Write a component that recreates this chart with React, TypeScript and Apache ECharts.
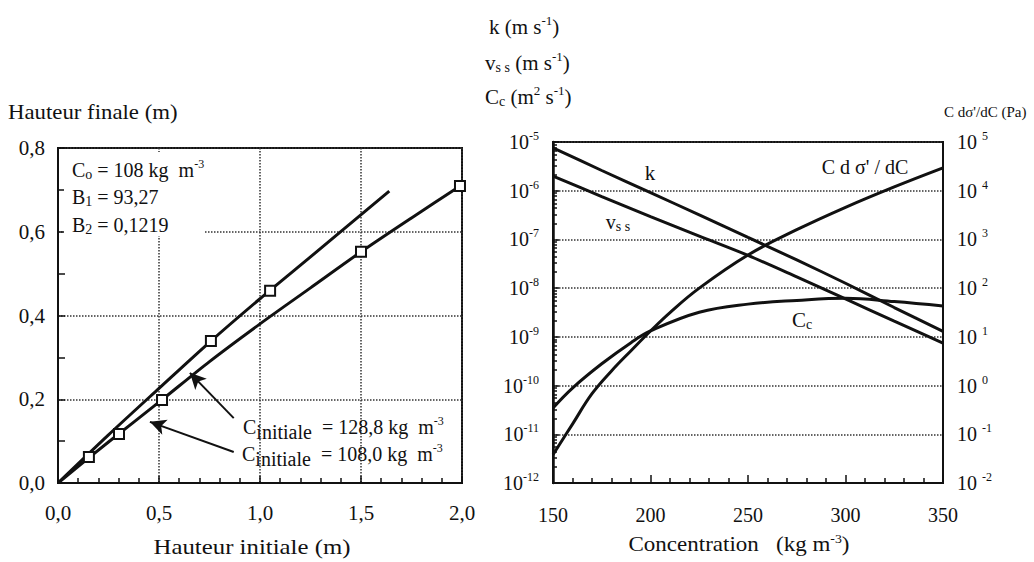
import React, { useEffect, useRef } from "react";
import * as echarts from "echarts";

// ---------- Left chart data (Hauteur initiale vs Hauteur finale) ----------
const lineA_x = [0, 0.25, 0.5, 0.75, 1.0, 1.25, 1.64];
const lineA_y = [0, 0.115, 0.226, 0.336, 0.44, 0.54, 0.697];
const lineB_x = [0, 0.25, 0.5, 0.75, 1.0, 1.25, 1.5, 1.75, 2.0];
const lineB_y = [0, 0.098, 0.193, 0.29, 0.38, 0.466, 0.552, 0.633, 0.712];
const pointsA_x = [0.153, 0.757, 1.05];
const pointsA_y = [0.062, 0.339, 0.459];
const pointsB_x = [0.302, 0.515, 1.5, 1.99];
const pointsB_y = [0.117, 0.198, 0.552, 0.709];
// annotation arrows: [tail x, tail y, head x, head y]
const arrow128 = [0.87, 0.155, 0.653, 0.263];
const arrow108 = [0.87, 0.074, 0.455, 0.146];

// ---------- Right chart data (Concentration) ----------
const concKV = [150, 175, 200, 225, 250, 275, 300, 325, 350];
const kValues = [7.6e-6, 2.6e-6, 9.1e-7, 3.2e-7, 1.1e-7, 3.8e-8, 1.26e-8, 4.0e-9, 1.3e-9];
const vssValues = [2.0e-6, 7.6e-7, 2.95e-7, 1.17e-7, 4.7e-8, 1.7e-8, 6.0e-9, 2.1e-9, 7.4e-10];
const concCc = [150, 160, 175, 190, 200, 225, 250, 275, 300, 325, 350];
const ccValues = [3.47e-11, 8.9e-11, 2.8e-10, 7.6e-10, 1.32e-9, 3.2e-9, 4.7e-9, 5.6e-9, 6.2e-9, 5.3e-9, 4.3e-9];
const concCd = [150, 160, 170, 180, 190, 200, 210, 225, 250, 275, 300, 325, 350];
const cdValues = [0.038, 0.162, 0.68, 2.0, 5.2, 13.2, 31.6, 100, 479, 1585, 4570, 12000, 29500];

const SERIF = "Liberation Serif";
const INK = "#111";

const zip = (xs: number[], ys: number[]) => xs.map((x, i) => [x, ys[i]]);

function rich(size: number) {
  return {
    b: { fontSize: size, fontFamily: SERIF, color: INK },
    sup: { fontSize: Math.round(size * 0.62), fontFamily: SERIF, color: INK, padding: [0, 0, Math.round(size * 0.6), 0] },
    sub: { fontSize: Math.round(size * 0.68), fontFamily: SERIF, color: INK, padding: [Math.round(size * 0.45), 0, 0, 0] },
    subl: { fontSize: size, fontFamily: SERIF, color: INK, padding: [Math.round(size * 0.45), 0, 0, 0] },
  };
}

function txt(x: number, y: number, text: string, size: number, align: string = "left", scaleX: number = 1) {
  return {
    type: "text",
    x,
    y,
    z: 10,
    scaleX,
    style: {
      text,
      rich: rich(size),
      fontSize: size,
      fontFamily: SERIF,
      fill: INK,
      align,
      verticalAlign: "middle",
    },
  };
}

const commaFmt = (v: number) => v.toFixed(1).replace(".", ",");
const expFmt = (sep: string) => (v: number) => {
  const e = Math.round(Math.log10(v));
  return `{b|10${sep}}{sup|${e}}`;
};

export default function App() {
  const ref = useRef<HTMLDivElement>(null);
  useEffect(() => {
    if (!ref.current) return;
    const chart = echarts.init(ref.current, undefined, { renderer: "svg" });
    const splitStyle = { show: true, lineStyle: { type: "dotted", color: "#333", width: 1.5 } };
    const tickStyle = { color: INK, width: 1.5 };
    const lineStyle = { color: INK, width: 3 };
    const labelFont = { fontSize: 21, fontFamily: SERIF, color: INK };
    const option: any = {
      animation: false,
      backgroundColor: "#fff",
      textStyle: { fontFamily: SERIF },
      grid: [
        { left: 58, top: 148, width: 404, height: 335, show: true, borderColor: INK, borderWidth: 2 },
        { left: 553, top: 142, width: 390, height: 341, show: true, borderColor: INK, borderWidth: 2 },
      ],
      xAxis: [
        {
          gridIndex: 0,
          type: "value",
          min: 0,
          max: 2,
          interval: 0.5,
          axisLine: { lineStyle: { color: INK, width: 2 } },
          axisTick: { inside: true, length: 7, lineStyle: tickStyle },
          minorTick: { show: true, splitNumber: 5, length: 5, lineStyle: tickStyle },
          axisLabel: { formatter: commaFmt, ...labelFont, margin: 19 },
          splitLine: splitStyle,
        },
        {
          gridIndex: 1,
          type: "value",
          min: 150,
          max: 350,
          interval: 50,
          axisLine: { lineStyle: { color: INK, width: 2 } },
          axisTick: { inside: true, length: 8, lineStyle: tickStyle },
          minorTick: { show: true, splitNumber: 5, length: 5, lineStyle: tickStyle },
          axisLabel: { ...labelFont, fontSize: 20, margin: 22 },
          splitLine: { show: false },
        },
      ],
      yAxis: [
        {
          gridIndex: 0,
          type: "value",
          min: 0,
          max: 0.8,
          interval: 0.2,
          axisLine: { lineStyle: { color: INK, width: 2 } },
          axisTick: { inside: true, length: 7, lineStyle: tickStyle },
          minorTick: { show: true, splitNumber: 2, length: 7, lineStyle: tickStyle },
          axisLabel: { formatter: commaFmt, ...labelFont, margin: 13 },
          splitLine: splitStyle,
        },
        {
          gridIndex: 1,
          type: "log",
          logBase: 10,
          min: 1e-12,
          max: 1e-5,
          interval: 1,
          axisLine: { lineStyle: { color: INK, width: 2.5 } },
          axisTick: { inside: true, length: 6, lineStyle: tickStyle },
          minorTick: { show: true, splitNumber: 8, length: 4, lineStyle: tickStyle },
          axisLabel: { formatter: expFmt(""), rich: rich(20), margin: 14 },
          splitLine: splitStyle,
        },
        {
          gridIndex: 1,
          type: "log",
          logBase: 10,
          min: 1e-2,
          max: 1e5,
          interval: 1,
          position: "right",
          axisLine: { show: true, lineStyle: { color: INK, width: 2 } },
          axisTick: { show: false },
          axisLabel: { formatter: expFmt(" "), rich: rich(20), margin: 14 },
          splitLine: { show: false },
        },
      ],
      series: [
        {
          name: "Cinitiale = 128,8 kg m-3",
          type: "line",
          xAxisIndex: 0,
          yAxisIndex: 0,
          data: zip(lineA_x, lineA_y),
          smooth: 0.3,
          showSymbol: false,
          lineStyle,
          z: 3,
          markLine: {
            silent: true,
            symbol: ["none", "arrow"],
            symbolSize: [12, 16],
            label: { show: false },
            lineStyle: { color: INK, width: 2, type: "solid" },
            data: [
              [
                { coord: [arrow128[0], arrow128[1]] },
                { coord: [arrow128[2], arrow128[3]] },
              ],
              [
                { coord: [arrow108[0], arrow108[1]] },
                { coord: [arrow108[2], arrow108[3]] },
              ],
            ],
          },
        },
        {
          name: "Cinitiale = 108,0 kg m-3",
          type: "line",
          xAxisIndex: 0,
          yAxisIndex: 0,
          data: zip(lineB_x, lineB_y),
          smooth: 0.3,
          showSymbol: false,
          lineStyle,
          z: 3,
        },
        {
          name: "points A",
          type: "scatter",
          xAxisIndex: 0,
          yAxisIndex: 0,
          data: zip(pointsA_x, pointsA_y),
          symbol: "rect",
          symbolSize: 10,
          itemStyle: { color: "#fff", borderColor: INK, borderWidth: 2, opacity: 1 },
          z: 5,
        },
        {
          name: "points B",
          type: "scatter",
          xAxisIndex: 0,
          yAxisIndex: 0,
          data: zip(pointsB_x, pointsB_y),
          symbol: "rect",
          symbolSize: 10,
          itemStyle: { color: "#fff", borderColor: INK, borderWidth: 2, opacity: 1 },
          z: 5,
        },
        {
          name: "k",
          type: "line",
          xAxisIndex: 1,
          yAxisIndex: 1,
          data: zip(concKV, kValues),
          smooth: 0.3,
          showSymbol: false,
          lineStyle,
        },
        {
          name: "vss",
          type: "line",
          xAxisIndex: 1,
          yAxisIndex: 1,
          data: zip(concKV, vssValues),
          smooth: 0.3,
          showSymbol: false,
          lineStyle,
        },
        {
          name: "Cc",
          type: "line",
          xAxisIndex: 1,
          yAxisIndex: 1,
          data: zip(concCc, ccValues),
          smooth: 0.4,
          showSymbol: false,
          lineStyle,
        },
        {
          name: "C dσ'/dC",
          type: "line",
          xAxisIndex: 1,
          yAxisIndex: 2,
          data: zip(concCd, cdValues),
          smooth: 0.4,
          showSymbol: false,
          lineStyle,
        },
      ],
      graphic: [
        { type: "rect", z: 5, shape: { x: 64, y: 152, width: 140, height: 84 }, style: { fill: "#fff" } },
        txt(8, 112, "{b|Hauteur finale (m)}", 20, "left", 1.14),
        txt(252, 547, "{b|Hauteur initiale (m)}", 20, "center", 1.24),
        txt(739, 545, "{b|Concentration   (kg m}{sup|-3}{b|)}", 20, "center", 1.15),
        txt(72, 170, "{b|C}{sub|o}{b| = 108 kg  m}{sup|-3}", 20),
        txt(72, 197, "{b|B}{sub|1}{b| = 93,27}", 20),
        txt(72, 225, "{b|B}{sub|2}{b| = 0,1219}", 20),
        txt(243, 427, "{b|C}{subl|initiale}{b|  = 128,8 kg  m}{sup|-3}", 20),
        txt(242, 454, "{b|C}{subl|initiale}{b|  = 108,0 kg  m}{sup|-3}", 20),
        txt(489, 27, "{b|k (m s}{sup|-1}{b|)}", 21),
        txt(485, 63, "{b|v}{sub|s s}{b| (m s}{sup|-1}{b|)}", 21),
        txt(485, 97, "{b|C}{sub|c}{b| (m}{sup|2}{b| s}{sup|-1}{b|)}", 21),
        txt(944, 112, "{b|C dσ'/dC (Pa)}", 15),
        txt(650, 173, "{b|k}", 21, "center"),
        txt(618, 222, "{b|v}{sub|s s}", 20, "center"),
        txt(802, 320, "{b|C}{sub|c}", 21, "center"),
        txt(865, 167, "{b|C d σ' / dC}", 20, "center"),
      ],
    };
    chart.setOption(option);
    return () => chart.dispose();
  }, []);
  return (
    <div
      ref={ref}
      style={{ position: "fixed", left: 0, top: 0, width: 1034, height: 562, background: "#fff" }}
    />
  );
}
